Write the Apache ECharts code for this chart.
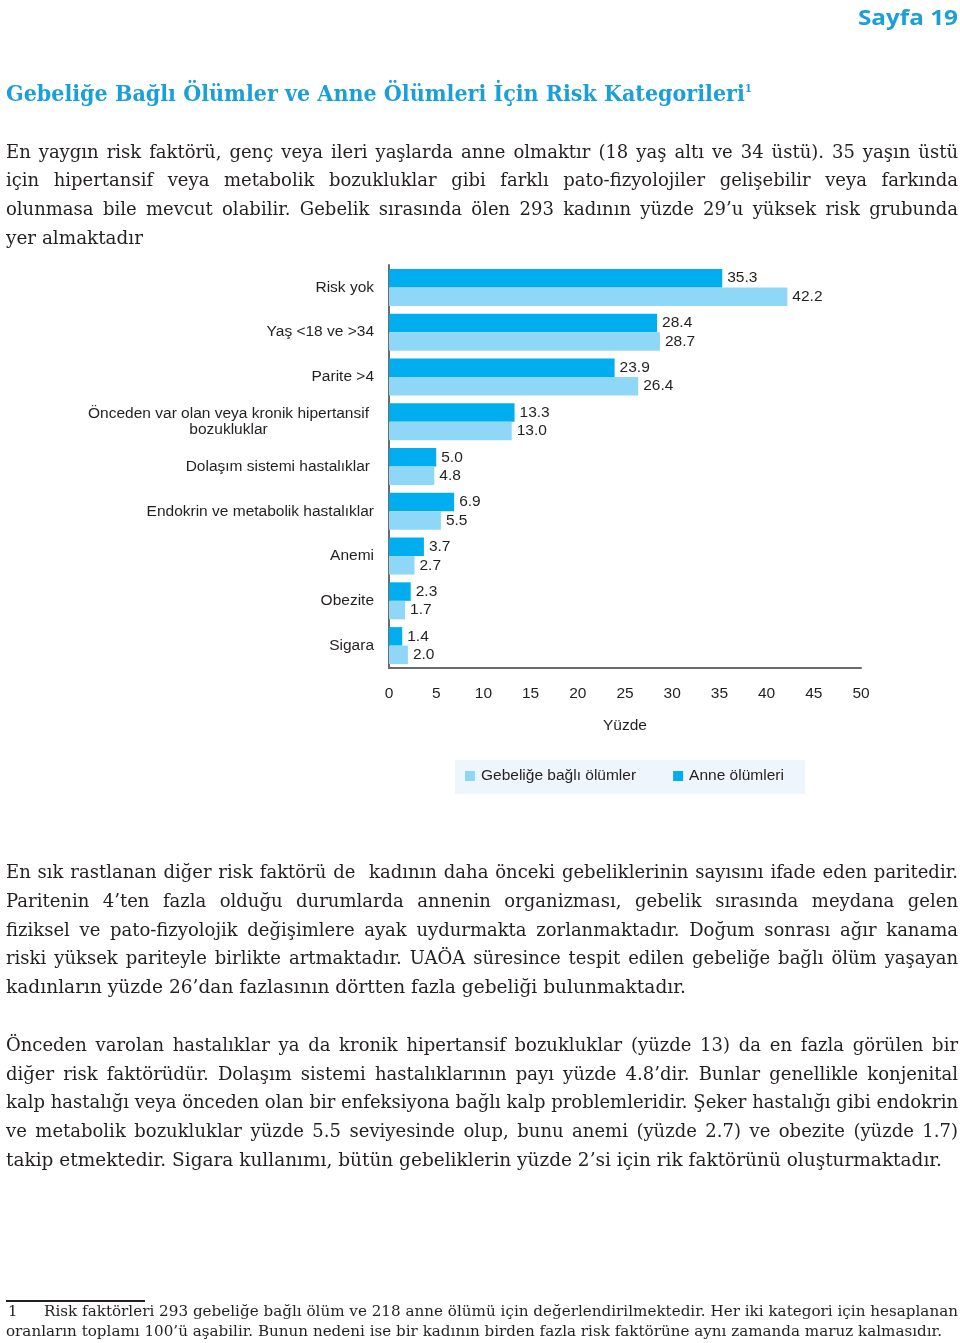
<!DOCTYPE html>
<html>
<head>
<meta charset="utf-8">
<script src="https://cdn.jsdelivr.net/npm/echarts@6/dist/echarts.min.js"></script>
<style>
  html,body{margin:0;padding:0;background:#fff;}
  body{width:960px;height:1343px;position:relative;overflow:hidden;}
  #chart{position:absolute;left:0;top:0;width:960px;height:1343px;}
  .ln{position:absolute;white-space:pre;transform-origin:0 50%;color:#231f20;z-index:2;}
  .body{font-family:'DejaVu Serif',serif;font-size:18px;}
  .foot{font-family:'DejaVu Serif',serif;font-size:15px;}
  .title{font-family:'DejaVu Serif',serif;font-weight:bold;font-size:22px;color:#1a9fd8;}
  .title sup{font-size:11px;vertical-align:9px;line-height:0;}
  .head{font-family:'Open Sans',sans-serif;font-weight:bold;font-size:22px;color:#1a9fd8;}
  .rule{position:absolute;left:6px;top:1300px;width:139px;height:2px;background:#231f20;}
</style>
</head>
<body>
<div id="chart"></div>
<div class="rule"></div>
<script>
// ---------- chart data ----------
const categories = [
  'Risk yok',
  'Yaş <18 ve >34',
  'Parite >4',
  'Önceden var olan veya kronik hipertansif\nbozukluklar',
  'Dolaşım sistemi hastalıklar',
  'Endokrin ve metabolik hastalıklar',
  'Anemi',
  'Obezite',
  'Sigara'
];
const anneOlumleri = [35.3, 28.4, 23.9, 13.3, 5.0, 6.9, 3.7, 2.3, 1.4];
const gebeligeBagliOlumler = [42.2, 28.7, 26.4, 13.0, 4.8, 5.5, 2.7, 1.7, 2.0];
const seriesNames = ['Anne ölümleri', 'Gebeliğe bağlı ölümler'];
const legendOrder = ['Gebeliğe bağlı ölümler', 'Anne ölümleri'];
const xAxisName = 'Yüzde';
const xMin = 0, xMax = 50, xStep = 5;

// ---------- page text ----------
const headerText = 'Sayfa 19';
const titleText = 'Gebeliğe Bağlı Ölümler ve Anne Ölümleri İçin Risk Kategorileri';
const titleNote = '1';
const para1 = [
  'En yaygın risk faktörü, genç veya ileri yaşlarda anne olmaktır (18 yaş altı ve 34 üstü). 35 yaşın üstü',
  'için hipertansif veya metabolik bozukluklar gibi farklı pato-fizyolojiler gelişebilir veya farkında',
  'olunmasa bile mevcut olabilir. Gebelik sırasında ölen 293 kadının yüzde 29’u yüksek risk grubunda',
  'yer almaktadır'
];
const para2 = [
  'En sık rastlanan diğer risk faktörü de  kadının daha önceki gebeliklerinin sayısını ifade eden paritedir.',
  'Paritenin 4’ten fazla olduğu durumlarda annenin organizması, gebelik sırasında meydana gelen',
  'fiziksel ve pato-fizyolojik değişimlere ayak uydurmakta zorlanmaktadır. Doğum sonrası ağır kanama',
  'riski yüksek pariteyle birlikte artmaktadır. UAÖA süresince tespit edilen gebeliğe bağlı ölüm yaşayan',
  'kadınların yüzde 26’dan fazlasının dörtten fazla gebeliği bulunmaktadır.'
];
const para3 = [
  'Önceden varolan hastalıklar ya da kronik hipertansif bozukluklar (yüzde 13) da en fazla görülen bir',
  'diğer risk faktörüdür. Dolaşım sistemi hastalıklarının payı yüzde 4.8’dir. Bunlar genellikle konjenital',
  'kalp hastalığı veya önceden olan bir enfeksiyona bağlı kalp problemleridir. Şeker hastalığı gibi endokrin',
  've metabolik bozukluklar yüzde 5.5 seviyesinde olup, bunu anemi (yüzde 2.7) ve obezite (yüzde 1.7)',
  'takip etmektedir. Sigara kullanımı, bütün gebeliklerin yüzde 2’si için rik faktörünü oluşturmaktadır.'
];
const footNumber = '1';
const footLines = [
  'Risk faktörleri 293 gebeliğe bağlı ölüm ve 218 anne ölümü için değerlendirilmektedir. Her iki kategori için hesaplanan',
  'oranların toplamı 100’ü aşabilir. Bunun nedeni ise bir kadının birden fazla risk faktörüne aynı zamanda maruz kalmasıdır.'
];

// ---------- layout helpers ----------
function mk(text, cls, left, centerY, lineH) {
  const d = document.createElement('div');
  d.className = 'ln ' + cls;
  d.textContent = text;
  d.style.left = left + 'px';
  d.style.top = (centerY - lineH / 2) + 'px';
  d.style.lineHeight = lineH + 'px';
  document.body.appendChild(d);
  return d;
}
function fitGroup(items) {
  let s = Infinity;
  items.forEach(it => {
    it.w = it.el.getBoundingClientRect().width;
    if (it.justify) s = Math.min(s, it.T / it.w);
  });
  items.forEach(it => {
    if (it.justify) {
      const n = (it.el.textContent.match(/ /g) || []).length;
      const extra = it.T / s - it.w;
      if (n > 0) it.el.style.wordSpacing = (extra / n) + 'px';
      it.el.style.transform = 'scaleX(' + s + ')';
    } else {
      it.el.style.transform = 'scaleX(' + (it.T / it.w) + ')';
    }
  });
}

// header
const hd = mk(headerText, 'head', 858, 16, 30);
fitGroup([{el: hd, T: 100, justify: false}]);

// title
const tl = mk(titleText, 'title', 6, 93, 32);
const sp = document.createElement('sup'); sp.textContent = titleNote; tl.appendChild(sp);
fitGroup([{el: tl, T: 746, justify: false}]);

// body paragraphs
const L = 6, R = 958;
const bodyItems = [];
function addPara(lines, ys, lastRight) {
  lines.forEach((t, i) => {
    const el = mk(t, 'body', L, ys[i], 28);
    const last = i === lines.length - 1;
    bodyItems.push({el, T: (last ? lastRight : R) - L, justify: !last});
  });
}
addPara(para1, [152, 180, 209, 238], 143);
addPara(para2, [872, 901, 930, 958, 987], 686);
addPara(para3, [1045, 1074, 1102, 1131, 1160], 942);
fitGroup(bodyItems);

// footnote
mk(footNumber, 'foot', 8, 1311, 20);
const f1 = mk(footLines[0], 'foot', 44, 1311, 20);
const f2 = mk(footLines[1], 'foot', 6, 1331, 20);
fitGroup([{el: f1, T: 958 - 44, justify: true}, {el: f2, T: 942 - 6, justify: false}]);

// ---------- chart ----------
const chart = echarts.init(document.getElementById('chart'), null, {renderer: 'canvas'});
const FONT = "'Liberation Sans', Arial, sans-serif";
const FS = 15.5;
const darkBlue = '#00aeef';
const lightBlue = '#8fd7f7';
const txt = '#231f20';
const axisCol = '#6b6b6b';

chart.setOption({
  animation: false,
  backgroundColor: 'transparent',
  textStyle: {fontFamily: FONT},
  grid: {left: 389, top: 265, width: 472, height: 403, containLabel: false},
  xAxis: {
    type: 'value', min: xMin, max: xMax, interval: xStep,
    axisLine: {show: true, lineStyle: {color: axisCol, width: 2}},
    axisTick: {show: false},
    splitLine: {show: false},
    axisLabel: {margin: 18, fontSize: FS, color: txt, fontFamily: FONT},
    name: xAxisName, nameLocation: 'middle', nameGap: 50,
    nameTextStyle: {fontSize: FS, color: txt, fontFamily: FONT}
  },
  yAxis: {
    type: 'category', inverse: true, data: categories,
    axisLine: {show: true, lineStyle: {color: axisCol, width: 2}},
    axisTick: {show: false},
    axisLabel: {
      margin: 15, fontSize: FS, color: txt, fontFamily: FONT, lineHeight: 16,
      formatter: function (v, i) {
        if (v.indexOf('\n') >= 0) return '{c|' + v + '}';
        if (i === 4) return '{p|' + v + '}';
        return v;
      },
      rich: {
        c: {width: 283, align: 'center', fontSize: FS, lineHeight: 16, color: txt, fontFamily: FONT, padding: [0, 4, 0, 0]},
        p: {fontSize: FS, color: txt, fontFamily: FONT, padding: [0, 4, 0, 0]}
      }
    }
  },
  legend: {
    data: legendOrder,
    left: 465, top: 768,
    padding: 0,
    icon: 'rect', itemWidth: 10, itemHeight: 10, itemGap: 37,
    textStyle: {fontSize: FS, color: txt, fontFamily: FONT, padding: [0, 0, 0, 1]}
  },
  graphic: [{
    type: 'rect', left: 455, top: 760, z: 0,
    shape: {width: 350, height: 34},
    style: {fill: '#eef5fc'}
  }],
  series: [
    {
      name: seriesNames[0], type: 'bar', data: anneOlumleri,
      barWidth: 18.5, barGap: '0%',
      itemStyle: {color: darkBlue},
      label: {show: true, position: 'right', distance: 5, fontSize: FS, color: txt, fontFamily: FONT,
        formatter: p => p.value.toFixed(1)}
    },
    {
      name: seriesNames[1], type: 'bar', data: gebeligeBagliOlumler,
      barWidth: 18.5, barGap: '0%',
      itemStyle: {color: lightBlue},
      label: {show: true, position: 'right', distance: 5, fontSize: FS, color: txt, fontFamily: FONT,
        formatter: p => p.value.toFixed(1)}
    }
  ]
});
</script>
</body>
</html>
